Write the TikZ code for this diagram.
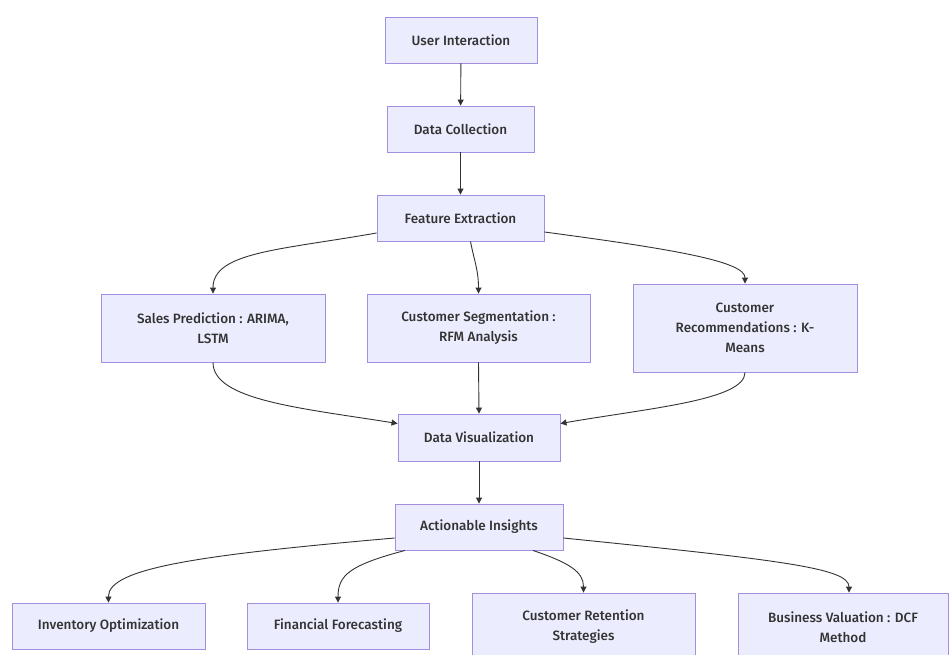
\documentclass[tikz,border=0pt]{standalone}
\usepackage{fontspec}
\setmainfont{Fira Sans}[UprightFont={* Medium}]
\usetikzlibrary{arrows.meta,calc}
\definecolor{boxfill}{HTML}{ECECFF}
\definecolor{boxline}{HTML}{A38FE0}
\definecolor{edgecol}{HTML}{333333}
\definecolor{txtcol}{HTML}{333333}
\tikzset{
  box/.style={draw=boxline, fill=boxfill, line width=0.9pt, align=center,
    font=\fontsize{13.5}{20}\selectfont, inner sep=0pt, text=txtcol},
  edge/.style={draw=edgecol, line width=0.9pt, -{Triangle[length=6pt,width=6pt]}}
}
\begin{document}
\begin{tikzpicture}[x=1pt,y=-1pt]
\useasboundingbox[fill=white] (0,0) rectangle (950,654);
\node[box, minimum width=152pt, minimum height=46pt] (ui) at (461,40) {User Interaction};
\node[box, minimum width=147pt, minimum height=46pt] (dc) at (460.5,129) {Data Collection};
\node[box, minimum width=167pt, minimum height=46pt] (fe) at (460.5,218) {Feature Extraction};
\node[box, minimum width=224pt, minimum height=68pt] (sp) at (213,328) {Sales Prediction : ARIMA,\\LSTM};
\node[box, minimum width=223pt, minimum height=68pt] (cs) at (478.5,328) {Customer Segmentation :\\RFM Analysis};
\node[box, minimum width=224pt, minimum height=88pt] (cr) at (745,328) {Customer\\Recommendations : K-\\Means};
\node[box, minimum width=162pt, minimum height=47pt] (dv) at (479,437.5) {Data Visualization};
\node[box, minimum width=168pt, minimum height=46pt] (ai) at (479,527) {Actionable Insights};
\node[box, minimum width=193pt, minimum height=46pt] (io) at (108.5,626) {Inventory Optimization};
\node[box, minimum width=182pt, minimum height=46pt] (ff) at (338,626) {Financial Forecasting};
\node[box, minimum width=223pt, minimum height=68pt] (ret) at (583.5,627) {Customer Retention\\Strategies};
\node[box, minimum width=210pt, minimum height=68pt] (bv) at (843,627) {Business Valuation : DCF\\Method};

\draw[edge] (ui) -- (dc);
\draw[edge] (dc) -- (fe);
\draw[edge] ([yshift=-15pt]fe.west) .. controls (280,250) and (213,252) .. (sp.north);
\draw[edge] ([xshift=10pt]fe.south) .. controls (474,260) and (478.5,270) .. (cs.north);
\draw[edge] ([yshift=-14pt]fe.east) .. controls (680,250) and (745,262) .. (cr.north);
\draw[edge] (sp.south) .. controls (213,400) and (300,408) .. ([yshift=14pt]dv.west);
\draw[edge] (cs.south) -- (dv.north);
\draw[edge] (cr.south) .. controls (745,400) and (650,408) .. ([yshift=14pt]dv.east);
\draw[edge] (dv) -- (ai);
\draw[edge] ([yshift=-11pt]ai.west) .. controls (200,555) and (108,568) .. (io.north);
\draw[edge] ([xshift=-74pt]ai.south) .. controls (350,565) and (338,575) .. (ff.north);
\draw[edge] ([xshift=54pt]ai.south) .. controls (570,563) and (583.5,572) .. (ret.north);
\draw[edge] ([yshift=-11pt]ai.east) .. controls (780,560) and (849,568) .. ([xshift=6pt]bv.north);
\end{tikzpicture}
\end{document}
